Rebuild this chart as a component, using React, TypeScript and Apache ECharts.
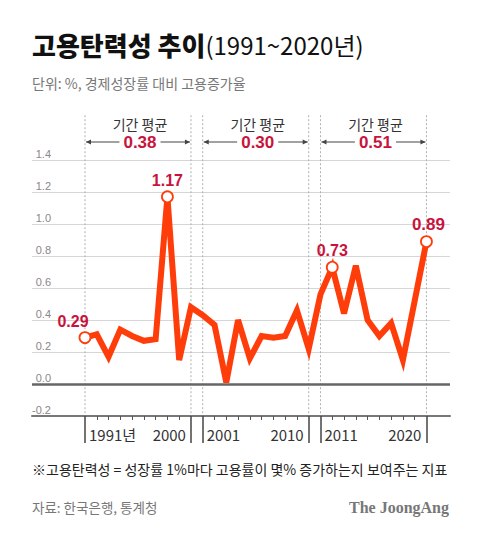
import React, { useEffect, useRef } from 'react';
import * as echarts from 'echarts';

// ---- data ----
const years = [
  1991, 1992, 1993, 1994, 1995, 1996, 1997, 1998, 1999, 2000,
  2001, 2002, 2003, 2004, 2005, 2006, 2007, 2008, 2009, 2010,
  2011, 2012, 2013, 2014, 2015, 2016, 2017, 2018, 2019, 2020,
];
const elasticity = [
  0.29, 0.31, 0.17, 0.34, 0.30, 0.27, 0.28, 1.17, 0.15, 0.48,
  0.43, 0.37, 0.01, 0.40, 0.16, 0.30, 0.29, 0.30, 0.46, 0.22,
  0.56, 0.73, 0.44, 0.74, 0.40, 0.30, 0.38, 0.15, 0.52, 0.89,
];
const highlightedYears = [1991, 1998, 2012, 2020];
const periodStarts = [1991, 2001, 2011];
const periodEnds = [2000, 2010, 2020];
const periodAverages = [0.38, 0.30, 0.51];
const periodTitle = '기간 평균';

const titleMain = '고용탄력성 추이';
const titleRange = '(1991~2020년)';
const subtitle = '단위: %, 경제성장률 대비 고용증가율';
const footnote = '※고용탄력성 = 성장률 1%마다 고용률이 몇% 증가하는지 보여주는 지표';
const source = '자료: 한국은행, 통계청';
const brand = 'The JoongAng';

const Y_MIN = -0.2;
const Y_MAX = 1.4;
const Y_STEP = 0.2;
const X_MIN = 1986.5;
const X_MAX = 2022;
// annotation heights (in data units, above the plot)
const HEADER_TOP = 1.68;
const PERIOD_TITLE_Y = 1.625;
const PERIOD_AVG_Y = 1.5125;

const KR = "'Noto Sans CJK KR', 'Noto Sans', sans-serif";
const NUM = "'Liberation Sans', Arial, sans-serif";
const RED = '#ff3d0b';
const CRIMSON = '#c8143c';

export default function App() {
  const ref = useRef<HTMLDivElement>(null);

  useEffect(() => {
    document.body.style.margin = '0';
    const chart = echarts.init(ref.current as HTMLDivElement, null, { renderer: 'svg' });

    const boundaries = [...periodStarts, ...periodEnds].sort((a, b) => a - b);
    const minorYears = years.filter((y) => !boundaries.includes(y));
    const labelOffsets: Record<number, number[]> = {
      1991: [-12, 0],
      1998: [0, 0],
      2012: [0, 0],
      2020: [2, 0],
    };

    const seriesData = years.map((y, i) => {
      if (highlightedYears.includes(y)) {
        return {
          value: [y, elasticity[i]],
          symbol: 'circle',
          symbolSize: 11,
          itemStyle: { color: '#fff', borderColor: RED, borderWidth: 1.8 },
          label: {
            show: true,
            position: 'top',
            distance: 2,
            offset: labelOffsets[y],
            formatter: (p: any) => Number(p.value[1]).toFixed(2),
            color: CRIMSON,
            fontWeight: 'bold',
            fontSize: y === 2020 ? 17 : 16,
            fontFamily: NUM,
          },
        };
      }
      return { value: [y, elasticity[i]], symbol: 'none' };
    });

    const baseX = {
      type: 'value',
      min: X_MIN,
      max: X_MAX,
      position: 'bottom',
      splitLine: { show: false },
    };

    chart.setOption({
      animation: false,
      backgroundColor: '#fff',
      grid: { left: 32, right: 30, top: 160, bottom: 120, containLabel: false, outerBoundsMode: 'none' },
      xAxis: [
        {
          ...baseX,
          axisLine: { show: true, onZero: false, lineStyle: { color: '#777', width: 2 } },
          axisTick: { show: true, customValues: minorYears, length: 4, lineStyle: { color: '#555', width: 1 } },
          axisLabel: { show: false },
        },
        {
          ...baseX,
          axisLine: { show: false, onZero: false },
          axisTick: { show: true, customValues: boundaries, length: 27, lineStyle: { color: '#444', width: 1.5 } },
          axisLabel: {
            show: true,
            customValues: periodStarts,
            formatter: (v: number) => (v === years[0] ? `${v}년` : String(v)),
            align: 'left',
            padding: [0, 0, 0, 4],
            margin: 11,
            fontSize: 15,
            color: '#333',
            fontFamily: KR,
          },
        },
        {
          ...baseX,
          axisLine: { show: false, onZero: false },
          axisTick: { show: false },
          axisLabel: {
            show: true,
            customValues: periodEnds,
            formatter: (v: number) => String(v),
            align: 'right',
            padding: [0, 5, 0, 0],
            margin: 11,
            fontSize: 15,
            color: '#333',
            fontFamily: KR,
          },
        },
      ],
      yAxis: {
        type: 'value',
        min: Y_MIN,
        max: Y_MAX,
        interval: Y_STEP,
        axisLine: { show: false },
        axisTick: { show: false },
        splitLine: { show: true, lineStyle: { color: '#d6d6d6', width: 1 } },
        axisLabel: {
          inside: true,
          align: 'right',
          verticalAlign: 'bottom',
          margin: 19,
          padding: [0, 0, 1, 0],
          fontSize: 11,
          color: '#888',
          fontFamily: NUM,
          formatter: (v: number) => v.toFixed(1),
        },
      },
      series: [
        {
          type: 'line',
          name: 'zero',
          data: [],
          z: 1,
          silent: true,
          markLine: {
            silent: true,
            symbol: 'none',
            label: { show: false },
            lineStyle: { color: '#666', width: 2.5, type: 'solid' },
            data: [{ yAxis: 0 }],
          },
        },
        {
          type: 'line',
          name: '고용탄력성',
          data: seriesData,
          z: 5,
          showSymbol: true,
          symbol: 'none',
          lineStyle: { color: RED, width: 6, join: 'miter', miterLimit: 10 },
          itemStyle: { color: RED },
        },
      ],
    });

    const px = (x: number, y: number) =>
      chart.convertToPixel({ seriesIndex: 1 }, [x, y]) as number[];

    const elements: any[] = [];
    const bottomY = px(years[0], Y_MIN)[1];
    boundaries.forEach((b) => {
      const [x, yTop] = px(b, HEADER_TOP);
      elements.push({
        type: 'line',
        silent: true,
        z: 0,
        shape: { x1: x, y1: yTop, x2: x, y2: bottomY },
        style: { stroke: '#b0b0b0', lineWidth: 1, lineDash: [2, 2] },
      });
    });
    periodStarts.forEach((s, i) => {
      const e = periodEnds[i];
      const [x1, yT] = px(s, PERIOD_TITLE_Y);
      const [x2, yA] = px(e, PERIOD_AVG_Y);
      const xm = (x1 + x2) / 2 + 2;
      elements.push({
        type: 'text',
        x: xm,
        y: yT,
        z: 2,
        style: { text: periodTitle, fontSize: 14, fontFamily: KR, fill: '#333', align: 'center', verticalAlign: 'middle' },
      });
      elements.push({
        type: 'line',
        z: 1,
        shape: { x1: x1 + 1, y1: yA, x2: x2 - 1, y2: yA },
        style: { stroke: '#444', lineWidth: 1 },
      });
      elements.push({
        type: 'polygon',
        z: 1,
        shape: { points: [[x1 + 1, yA], [x1 + 6, yA - 2.5], [x1 + 6, yA + 2.5]] },
        style: { fill: '#444' },
      });
      elements.push({
        type: 'polygon',
        z: 1,
        shape: { points: [[x2 - 1, yA], [x2 - 6, yA - 2.5], [x2 - 6, yA + 2.5]] },
        style: { fill: '#444' },
      });
      elements.push({
        type: 'text',
        x: xm,
        y: yA,
        z: 3,
        style: {
          text: periodAverages[i].toFixed(2),
          fontSize: 17,
          fontWeight: 'bold',
          fontFamily: NUM,
          fill: CRIMSON,
          align: 'center',
          verticalAlign: 'middle',
          backgroundColor: '#fff',
          padding: [0, 4],
        },
      });
    });

    // titles & notes
    elements.push({
      type: 'text',
      x: 32,
      y: 44,
      style: {
        text: `{b|${titleMain}}{r|${titleRange}}`,
        verticalAlign: 'middle',
        rich: {
          b: { fontSize: 26, fontWeight: 900, fontFamily: KR, fill: '#111', lineHeight: 32 },
          r: { fontSize: 24, fontWeight: 'normal', fontFamily: KR, fill: '#111', lineHeight: 32 },
        },
      },
    });
    elements.push({
      type: 'text',
      x: 32,
      y: 83,
      style: { text: subtitle, fontSize: 14, fontFamily: KR, fill: '#777', verticalAlign: 'middle' },
    });
    elements.push({
      type: 'text',
      x: 32,
      y: 469,
      style: { text: footnote, fontSize: 14, fontFamily: KR, fill: '#222', verticalAlign: 'middle' },
    });
    elements.push({
      type: 'text',
      x: 32,
      y: 507,
      style: { text: source, fontSize: 13.5, fontFamily: KR, fill: '#777', verticalAlign: 'middle' },
    });
    elements.push({
      type: 'text',
      x: 449,
      y: 507,
      style: {
        text: brand,
        fontSize: 16,
        fontWeight: 'bold',
        fontFamily: "'Liberation Serif', 'DejaVu Serif', serif",
        fill: '#777',
        align: 'right',
        verticalAlign: 'middle',
      },
    });

    chart.setOption({ graphic: { elements } });

    return () => {
      chart.dispose();
    };
  }, []);

  return <div ref={ref} style={{ width: 480, height: 536 }} />;
}
